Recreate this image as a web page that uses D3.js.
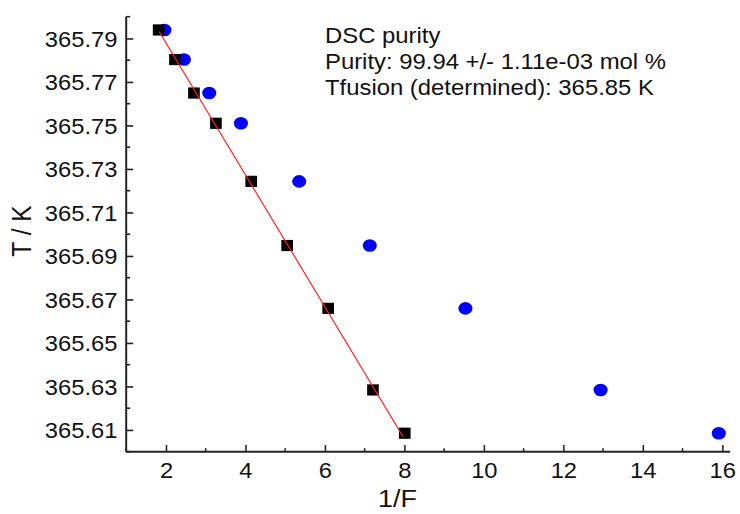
<!DOCTYPE html>
<html>
<head>
<meta charset="utf-8">
<script src="https://cdn.jsdelivr.net/npm/d3@7"></script>
<style>
  html, body { margin: 0; padding: 0; background: #fff; }
  svg { display: block; }
  text { font-family: Arial, "Liberation Sans", sans-serif; fill: #111; }
</style>
</head>
<body>
<svg id="chart"></svg>
<script>
// ---- data ----
const yLevels   = [365.7939, 365.7803, 365.7649, 365.7510, 365.7243, 365.6948, 365.6659, 365.6284, 365.6085];
const correctedX = [1.817, 2.227, 2.705, 3.258, 4.146, 5.051, 6.082, 7.21, 8.01];   // black squares
const measuredX  = [1.963, 2.453, 3.090, 3.887, 5.353, 7.130, 9.537, 12.939, 15.913]; // blue circles
const fitX = [1.832, 7.968];
const fitY = [365.7931, 365.6069];
const xTicks = [2, 4, 6, 8, 10, 12, 14, 16];
const xMinorTicks = [1, 3, 5, 7, 9, 11, 13, 15];
const yTicks = [365.61, 365.63, 365.65, 365.67, 365.69, 365.71, 365.73, 365.75, 365.77, 365.79];
const yMinorTicks = [365.60, 365.62, 365.64, 365.66, 365.68, 365.70, 365.72, 365.74, 365.76, 365.78, 365.80];
const infoLines = ["DSC purity", "Purity: 99.94 +/- 1.11e-03 mol %", "Tfusion (determined): 365.85 K"];
const xTitle = "1/F";
const yTitle = "T / K";

(function () {
// ---- layout (reference is horizontally stretched by ~1.1) ----
const SX = 1.1;
const W = 740, H = 514, IW = W / SX;
const svg = d3.select("#chart")
  .attr("width", W).attr("height", H)
  .attr("viewBox", `0 0 ${IW} ${H}`)
  .attr("preserveAspectRatio", "none");

const mLeft = 126.2 / SX, mRight = 730.2 / SX, mTop = 16.7, mBottom = 451.7;
const x = d3.scaleLinear().domain([1, 16.2]).range([mLeft, mRight]);
const y = d3.scaleLinear().domain([365.60, 365.80]).range([mBottom, mTop]);

const axisColor = "#222";
const fontFam = "Arial, 'Liberation Sans', sans-serif";
const tickFont = 21.6;

// bottom axis
const gx = svg.append("g").attr("transform", `translate(0,${mBottom})`);
gx.call(d3.axisBottom(x).tickValues(xTicks).tickSize(-6.7).tickPadding(0).tickFormat(d3.format("d")));
gx.select(".domain").remove();
gx.selectAll(".tick line").attr("stroke", axisColor).attr("stroke-width", 1.4);
gx.selectAll(".tick text").attr("font-size", tickFont).attr("dy", null).attr("y", 26.5)
  .attr("fill", "#111").attr("font-family", fontFam);
gx.append("g").selectAll("line").data(xMinorTicks).join("line")
  .attr("x1", d => x(d)).attr("x2", d => x(d)).attr("y1", 0).attr("y2", -3.5)
  .attr("stroke", axisColor).attr("stroke-width", 1.4);
gx.append("line").attr("x1", mLeft).attr("x2", mRight).attr("y1", 0).attr("y2", 0)
  .attr("stroke", axisColor).attr("stroke-width", 2);

// left axis
const gy = svg.append("g").attr("transform", `translate(${mLeft},0)`);
gy.call(d3.axisLeft(y).tickValues(yTicks).tickSize(-6.4).tickPadding(0).tickFormat(d3.format(".2f")));
gy.select(".domain").remove();
gy.selectAll(".tick line").attr("stroke", axisColor).attr("stroke-width", 1.6);
gy.selectAll(".tick text").attr("font-size", tickFont).attr("x", -8).attr("dy", "0.36em")
  .attr("fill", "#111").attr("font-family", fontFam);
gy.append("g").selectAll("line").data(yMinorTicks).join("line")
  .attr("x1", 0).attr("x2", 3.6).attr("y1", d => y(d)).attr("y2", d => y(d))
  .attr("stroke", axisColor).attr("stroke-width", 1.6);
gy.append("line").attr("x1", 0).attr("x2", 0).attr("y1", mTop).attr("y2", mBottom)
  .attr("stroke", axisColor).attr("stroke-width", 1.8);

// blue circles (measured)
svg.append("g").selectAll("ellipse").data(measuredX.map((v, i) => [v, yLevels[i]])).join("ellipse")
  .attr("cx", d => x(d[0])).attr("cy", d => y(d[1]))
  .attr("rx", 6.4).attr("ry", 6.3)
  .attr("fill", "#0000ff");

// black squares (corrected)
const sqW = 10.6, sqH = 11.2;
svg.append("g").selectAll("rect").data(correctedX.map((v, i) => [v, yLevels[i]])).join("rect")
  .attr("x", d => x(d[0]) - sqW / 2).attr("y", d => y(d[1]) - sqH / 2)
  .attr("width", sqW).attr("height", sqH)
  .attr("fill", "#000");

// red fit line
svg.append("path")
  .datum(fitX.map((v, i) => [v, fitY[i]]))
  .attr("d", d3.line().x(d => x(d[0])).y(d => y(d[1])))
  .attr("stroke", "#ff2020").attr("stroke-width", 1.1).attr("fill", "none");

// info text
svg.append("g").selectAll("text").data(infoLines).join("text")
  .attr("x", 325 / SX).attr("y", (d, i) => 42.7 + i * 26.2)
  .attr("font-size", 21.7).text(d => d);

// axis titles
svg.append("text").attr("x", 397.5 / SX).attr("y", 507)
  .attr("text-anchor", "middle").attr("font-size", 24.5).text(xTitle);
svg.append("text").attr("transform", `translate(${31 / SX},231) rotate(-90)`)
  .attr("text-anchor", "middle").attr("font-size", 24.5).text(yTitle);
})();
</script>
</body>
</html>
